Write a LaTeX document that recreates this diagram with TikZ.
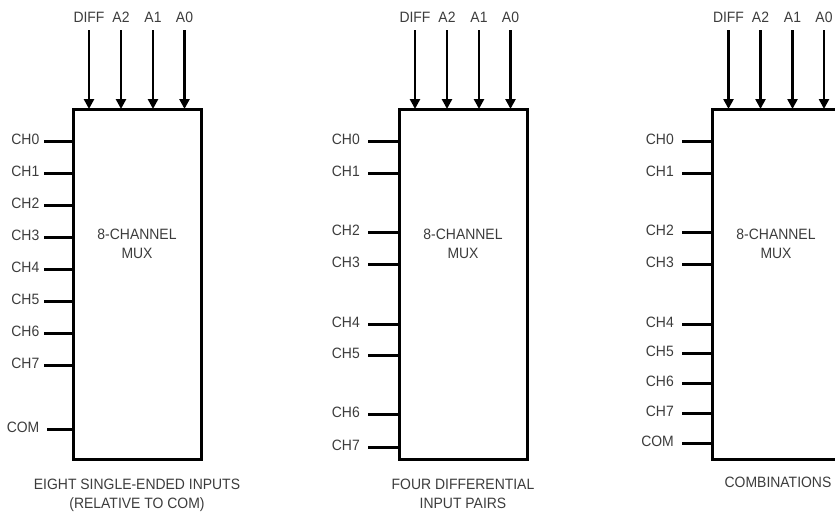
\documentclass[tikz,border=0pt]{standalone}
\usepackage{fontspec}
\setmainfont{Liberation Sans}[FakeStretch=0.93]
\usetikzlibrary{arrows.meta}
\definecolor{txt}{HTML}{3C3C3C}
\begin{document}
\begin{tikzpicture}[x=1pt,y=-1pt,
  mux/.style={draw,line width=3pt,minimum width=128pt,minimum height=350.5pt,inner sep=0pt,outer sep=0pt},
  lbl/.style={font=\fontsize{15}{18}\selectfont,text=txt,inner sep=0pt},
  pin/.style={line width=3pt},
  sel/.style={line width=2.7pt,-{Triangle[width=10pt,length=10pt]}}]
\useasboundingbox (0,0) rectangle (835,514);
\clip (0,0) rectangle (835,514);

% ---------- boxes ----------
\node[mux] (m1) at (137,284.25) {};
\node[mux] (m2) at (463,284.25) {};
\node[mux] (m3) at (776.5,284.25) {};

% ---------- select inputs ----------
\foreach \b/\L in {1/73,2/399,3/712.5}{
  \foreach \t/\o in {DIFF/16,A2/48,A1/80,A0/111.5}{
    \node[lbl,anchor=base] (m\b\t) at (\L+\o,23) {\t};
    \draw[sel] ([yshift=-7pt]m\b\t.south) -- (m\b\t.south |- m\b.north);
  }
}

% ---------- box 1 pins ----------
\foreach \n/\y in {0/141,1/173,2/205,3/237,4/269,5/301,6/333,7/365}{
  \node[lbl,anchor=base east] (m1l\n) at (39.5,\y+3) {CH\n};
  \coordinate (m1s\n) at (44,\y);
  \draw[pin] (m1s\n) -- (m1s\n -| m1.west);
}
\node[lbl,anchor=base east] (m1lc) at (39.5,432) {COM};
\coordinate (m1sc) at (47,429);
\draw[pin] (m1sc) -- (m1sc -| m1.west);

% ---------- box 2 pins ----------
\foreach \n/\y in {0/141,1/173,2/232,3/264,4/324,5/355,6/414,7/447}{
  \node[lbl,anchor=base east] (m2l\n) at (360,\y+3) {CH\n};
  \coordinate (m2s\n) at (368,\y);
  \draw[pin] (m2s\n) -- (m2s\n -| m2.west);
}

% ---------- box 3 pins ----------
\foreach \n/\y in {0/141,1/173,2/232,3/264,4/324,5/353,6/383,7/413}{
  \node[lbl,anchor=base east] (m3l\n) at (674,\y+3) {CH\n};
  \coordinate (m3s\n) at (682,\y);
  \draw[pin] (m3s\n) -- (m3s\n -| m3.west);
}
\node[lbl,anchor=base east] (m3lc) at (674,446) {COM};
\coordinate (m3sc) at (682,443);
\draw[pin] (m3sc) -- (m3sc -| m3.west);

% ---------- inner texts ----------
\foreach \b/\x in {1/137,2/463,3/776}{
  \node[lbl,anchor=base] (m\b ta) at (\x,239.5) {8-CHANNEL};
  \node[lbl,anchor=base] (m\b tb) at (\x,258) {MUX};
}

% ---------- captions ----------
\node[lbl,anchor=base] (c1a) at (137,489) {EIGHT SINGLE-ENDED INPUTS};
\node[lbl,anchor=base] (c1b) at (137,508.5) {(RELATIVE TO COM)};
\node[lbl,anchor=base] (c2a) at (463,489) {FOUR DIFFERENTIAL};
\node[lbl,anchor=base] (c2b) at (463,508.5) {INPUT PAIRS};
\node[lbl,anchor=base] (c3a) at (778,487) {COMBINATIONS};
\end{tikzpicture}
\end{document}
